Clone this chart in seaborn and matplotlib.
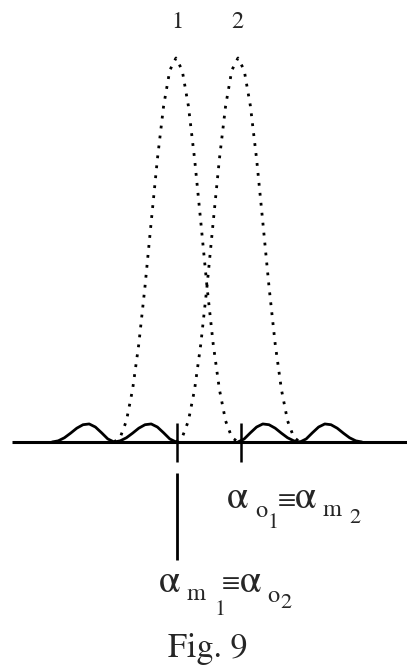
import numpy as np
import pandas as pd
import matplotlib
matplotlib.use("Agg")
import matplotlib.pyplot as plt
import seaborn as sns

# ---- data (angle in units of the peak separation, relative intensity) ----
main_offsets = [-1.0, -0.9, -0.8, -0.7, -0.6, -0.5, -0.4, -0.3, -0.2, -0.1, 0.0,
                0.1, 0.2, 0.3, 0.4, 0.5, 0.6, 0.7, 0.8, 0.9, 1.0]
main_values = [0.0, 0.012, 0.055, 0.137, 0.255, 0.405, 0.573, 0.737, 0.875, 0.968, 1.0,
               0.968, 0.875, 0.737, 0.573, 0.405, 0.255, 0.137, 0.055, 0.012, 0.0]
side_offsets = [1.0, 1.1, 1.2, 1.3, 1.4, 1.5, 1.6, 1.7, 1.8, 1.9, 2.0]
side_values = [0.0, 0.008, 0.024, 0.039, 0.047, 0.045, 0.036, 0.023, 0.011, 0.003, 0.0]
peak_centres = [0.0, 1.0]
peak_labels = ["1", "2"]
label_top = [("α", "main"), ("o", "sub"), ("1", "subsub"), ("≡", "eq"),
             ("α", "main"), ("m", "sub"), ("2", "subsub")]
label_bottom = [("α", "main"), ("m", "sub"), ("1", "subsub"), ("≡", "eq"),
                ("α", "main"), ("o", "sub"), ("2", "subsub")]
caption = "Fig. 9"

# ---- build tables ----
rows = []
for k, c in enumerate(peak_centres):
    for o, v in zip(main_offsets, main_values):
        rows.append(dict(x=c + o, y=v, curve=f"main{k}"))
main_df = pd.DataFrame(rows)

side_rows = []
for k, c in enumerate(peak_centres):
    for sgn, tag in ((-1, "L"), (1, "R")):
        for o, v in zip(side_offsets, side_values):
            side_rows.append(dict(x=c + sgn * o, y=v, curve=f"side{k}{tag}"))
side_df = pd.DataFrame(side_rows)

sns.set_theme(style="white")
plt.rcParams["font.family"] = ["STIXGeneral", "DejaVu Serif"]

W, H = 407, 666
fig = plt.figure(figsize=(W / 100, H / 100), dpi=100)
ax = fig.add_axes([0, 0, 1, 1])

# pixel mapping: x_px = 176 + 62*u ; y_px = 442 - 384*I
x0, sx = 176.0, 62.0
y0, sy = 442.0, 384.0
ax.set_xlim(-x0 / sx, (W - x0) / sx)
ax.set_ylim((y0 - H) / sy, y0 / sy)
ax.set_axis_off()

def px(xp, yp):
    return (xp - x0) / sx, (y0 - yp) / sy

sns.lineplot(data=main_df, x="x", y="y", units="curve", estimator=None, sort=False,
             color="black", lw=2.0, linestyle=(0, (1, 2.6)), ax=ax)
sns.lineplot(data=side_df, x="x", y="y", units="curve", estimator=None, sort=False,
             color="black", lw=2.0, ax=ax)

# baseline
bx0, _ = px(12, 0)
bx1, _ = px(407, 0)
ax.plot([bx0, bx1], [0, 0], color="black", lw=2.2, solid_capstyle="butt")
# tick marks at both peaks
for xp in (177, 241):
    xa, ya = px(xp, 423)
    _, yb = px(xp, 462)
    ax.plot([xa, xa], [ya, yb], color="black", lw=1.8, solid_capstyle="butt")
# long marker line under peak 1
xa, ya = px(177, 473)
_, yb = px(177, 560)
ax.plot([xa, xa], [ya, yb], color="black", lw=2.0, solid_capstyle="butt")

# peak labels
for xp, lab in zip((177, 237.5), peak_labels):
    tx, ty = px(xp, 28)
    ax.text(tx, ty, lab, ha="center", va="baseline", fontsize=17.5)

sizes = {"main": 28, "sub": 17.5, "subsub": 16, "eq": 19}

def draw_label(pieces, lefts, baselines):
    for (txt, role), xl, yb in zip(pieces, lefts, baselines):
        tx, ty = px(xl, yb)
        ax.text(tx, ty, txt, ha="left", va="baseline", fontsize=sizes[role])

draw_label(label_top,
           [227, 255, 268, 278, 295, 323, 349],
           [508, 517, 528, 507, 508, 516, 523])
draw_label(label_bottom,
           [159, 187, 215, 222, 240, 267, 280],
           [592, 600, 615, 590, 592, 602, 608])

tx, ty = px(168, 657)
ax.text(tx, ty, caption, ha="left", va="baseline", fontsize=24.5)

fig.savefig("out.png", dpi=100)
